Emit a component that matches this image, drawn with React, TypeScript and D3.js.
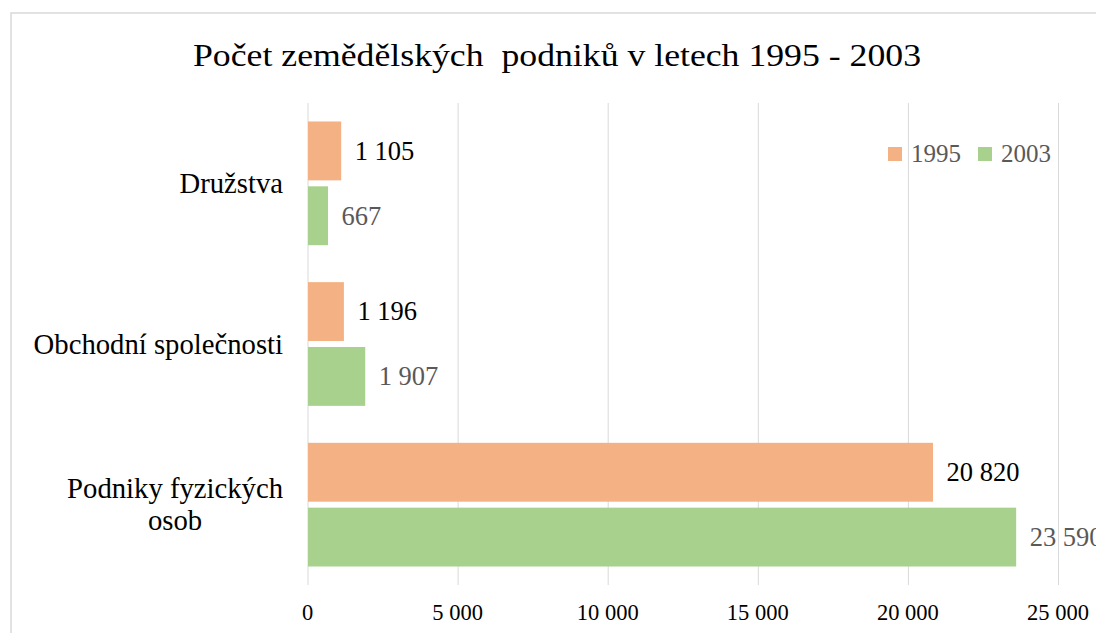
import { useEffect, useRef } from 'react';
import * as d3 from 'd3';

const categories = ['Družstva', 'Obchodní společnosti', 'Podniky fyzických osob'];
const years = ['1995', '2003'];
const values1995 = [1105, 1196, 20820];
const values2003 = [667, 1907, 23590];
const xTicks = [0, 5000, 10000, 15000, 20000, 25000];
const title = 'Počet zemědělských  podniků v letech 1995 - 2003';

const barColors = ['#F4B183', '#A9D18E'];
const labelColors = ['#000000', '#595959'];
const FONT = "'Liberation Serif', 'Times New Roman', serif";
const W = 1096, H = 633;

const fmt = (v: number) => d3.format(',')(v).replace(/,/g, ' ');

export default function App() {
  const svgRef = useRef<SVGSVGElement>(null);

  useEffect(() => {
    if (!svgRef.current) return;
    const svg = d3.select(svgRef.current);
    svg.selectAll('*').remove();

    const series = [values1995, values2003];

    // chart frame
    svg.append('rect').attr('x', 11).attr('y', 13).attr('width', 1100).attr('height', 640)
      .attr('fill', '#fff').attr('stroke', '#d9d9d9').attr('stroke-width', 1.5);

    // title
    svg.append('text').attr('x', 557).attr('y', 66).attr('text-anchor', 'middle')
      .attr('font-family', FONT).attr('font-size', 32).attr('fill', '#000')
      .attr('textLength', 728).attr('lengthAdjust', 'spacingAndGlyphs')
      .style('white-space', 'pre')
      .text(title);

    const x = d3.scaleLinear().domain([0, 25000]).range([307.5, 1058]);
    const y = d3.scaleBand().domain(categories).range([103, 585]);
    const inner = d3.scaleBand().domain(years).range([0, y.bandwidth()])
      .paddingInner(0.092).paddingOuter(0.285);

    // gridlines
    svg.append('g').selectAll('line').data(xTicks).enter().append('line')
      .attr('x1', d => x(d) + 0.5).attr('x2', d => x(d) + 0.5)
      .attr('y1', 103).attr('y2', 585)
      .attr('stroke', '#d9d9d9').attr('stroke-width', 1);

    // x tick labels
    svg.append('g').selectAll('text').data(xTicks).enter().append('text')
      .attr('x', d => x(d)).attr('y', 620).attr('text-anchor', 'middle')
      .attr('font-family', FONT).attr('font-size', 22.5).attr('fill', '#000')
      .text(d => fmt(d));

    // bars + labels
    years.forEach((yr, si) => {
      const g = svg.append('g');
      g.selectAll('rect').data(categories).enter().append('rect')
        .attr('x', x(0) + 0.5)
        .attr('y', c => (y(c) as number) + (inner(yr) as number))
        .attr('width', (c, i) => x(series[si][i]) - x(0))
        .attr('height', inner.bandwidth())
        .attr('fill', barColors[si]);
      g.selectAll('text').data(categories).enter().append('text')
        .attr('x', (c, i) => x(series[si][i]) + 14)
        .attr('y', c => (y(c) as number) + (inner(yr) as number) + inner.bandwidth() / 2 + 8.8)
        .attr('font-family', FONT).attr('font-size', 26.5).attr('fill', labelColors[si])
        .text((c, i) => fmt(series[si][i]));
    });

    // category labels (wrapped, centred block, right edge at axis)
    const axisRight = 283;
    const maxW = 262;
    const lineH = 32;
    categories.forEach(cat => {
      const t = svg.append('text').attr('font-family', FONT).attr('font-size', 28.7)
        .attr('fill', '#000').attr('text-anchor', 'middle');
      const words = cat.split(' ');
      const lines: string[] = [];
      let cur = '';
      const probe = t.append('tspan');
      words.forEach(w => {
        const test = cur ? cur + ' ' + w : w;
        probe.text(test);
        if ((probe.node() as SVGTSpanElement).getComputedTextLength() > maxW && cur) {
          lines.push(cur);
          cur = w;
        } else cur = test;
      });
      lines.push(cur);
      let widest = 0;
      lines.forEach(l => {
        probe.text(l);
        widest = Math.max(widest, (probe.node() as SVGTSpanElement).getComputedTextLength());
      });
      probe.remove();
      const cx = axisRight - widest / 2;
      const cy = (y(cat) as number) + y.bandwidth() / 2;
      const first = cy - ((lines.length - 1) * lineH) / 2 + 9.5;
      lines.forEach((l, i) => {
        t.append('tspan').attr('x', cx).attr('y', first + i * lineH).text(l);
      });
    });

    // legend
    const leg = svg.append('g');
    let lx = 888;
    years.forEach((yr, si) => {
      leg.append('rect').attr('x', lx).attr('y', 147).attr('width', 14).attr('height', 14)
        .attr('fill', barColors[si]);
      const t = leg.append('text').attr('x', lx + 23).attr('y', 161.5)
        .attr('font-family', FONT).attr('font-size', 25).attr('fill', '#595959').text(yr);
      lx += 23 + (t.node() as SVGTextElement).getComputedTextLength() + 17;
    });
  }, []);

  return (
    <svg ref={svgRef} width={W} height={H}
      style={{ position: 'absolute', left: 0, top: 0, background: '#fff' }} />
  );
}
